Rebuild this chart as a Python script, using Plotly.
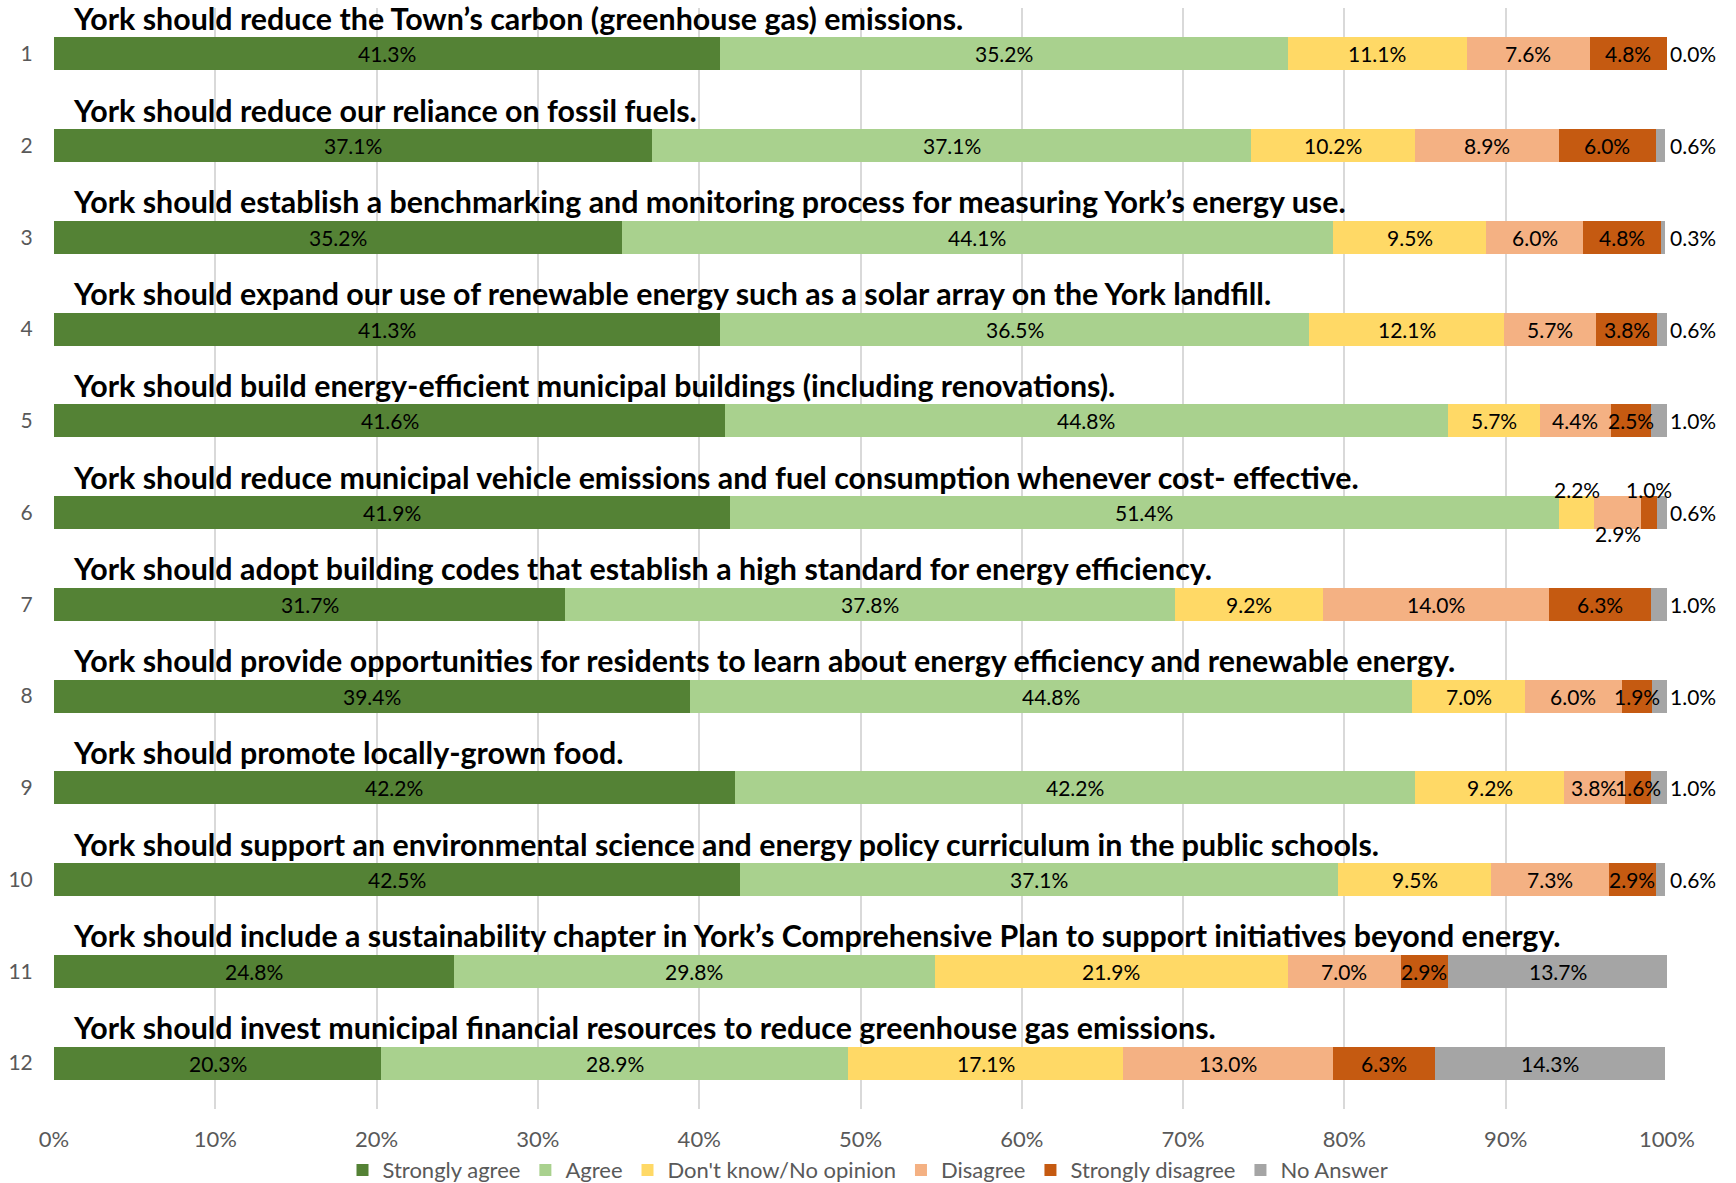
import plotly.graph_objects as go

rows = ["1", "2", "3", "4", "5", "6", "7", "8", "9", "10", "11", "12"]
questions = [
    "York should reduce the Town\u2019s carbon (greenhouse gas) emissions.",
    "York should reduce our reliance on fossil fuels.",
    "York should establish a benchmarking and monitoring process for measuring York\u2019s energy use.",
    "York should expand our use of renewable energy such as a solar array on the York landfill.",
    "York should build energy-efficient municipal buildings (including renovations).",
    "York should reduce municipal vehicle emissions and fuel consumption whenever cost- effective.",
    "York should adopt building codes that establish a high standard for energy efficiency.",
    "York should provide opportunities for residents to learn about energy efficiency and renewable energy.",
    "York should promote locally-grown food.",
    "York should support an environmental science and energy policy curriculum in the public schools.",
    "York should include a sustainability chapter in York\u2019s Comprehensive Plan to support initiatives beyond energy.",
    "York should invest municipal financial resources to reduce greenhouse gas emissions.",
]
series_names = ["Strongly agree", "Agree", "Don't know/No opinion", "Disagree", "Strongly disagree", "No Answer"]
strongly_agree = [41.3, 37.1, 35.2, 41.3, 41.6, 41.9, 31.7, 39.4, 42.2, 42.5, 24.8, 20.3]
agree = [35.2, 37.1, 44.1, 36.5, 44.8, 51.4, 37.8, 44.8, 42.2, 37.1, 29.8, 28.9]
dont_know = [11.1, 10.2, 9.5, 12.1, 5.7, 2.2, 9.2, 7.0, 9.2, 9.5, 21.9, 17.1]
disagree = [7.6, 8.9, 6.0, 5.7, 4.4, 2.9, 14.0, 6.0, 3.8, 7.3, 7.0, 13.0]
strongly_disagree = [4.8, 6.0, 4.8, 3.8, 2.5, 1.0, 6.3, 1.9, 1.6, 2.9, 2.9, 6.3]
no_answer = [0.0, 0.6, 0.3, 0.6, 1.0, 0.6, 1.0, 1.0, 1.0, 0.6, 13.7, 14.3]
x_ticks = [0, 10, 20, 30, 40, 50, 60, 70, 80, 90, 100]

colors = ["#548235", "#A9D18E", "#FFD966", "#F4B183", "#C55A11", "#A5A5A5"]
series = [strongly_agree, agree, dont_know, disagree, strongly_disagree, no_answer]

FONT = "Lato"
LABEL_SIZE = 21
fig = go.Figure()

for si, (name, vals, col) in enumerate(zip(series_names, series, colors)):
    fig.add_trace(go.Bar(
        name=name, y=rows, x=vals, orientation="h",
        marker=dict(color=col, line=dict(width=0)),
        hoverinfo="skip",
    ))

annotations = []
# row titles (y given as category index)
for ri, q in enumerate(questions):
    annotations.append(dict(
        x=0, y=ri, xref="x", yref="y", text=f"<b>{q}</b>",
        showarrow=False, xanchor="left", yanchor="middle",
        xshift=17, yshift=36, font=dict(family=FONT, size=30.4, color="#000000"),
    ))

# segment labels
row6 = 5
row6_shift = {2: 23, 3: -21, 4: 23}
for ri in range(len(rows)):
    cum = 0.0
    for si, vals in enumerate(series):
        v = vals[ri]
        label = f"{v:.1f}%"
        if si == 5 and ri < 10:
            # No Answer label placed right of the 100% line
            annotations.append(dict(
                x=100, y=ri, xref="x", yref="y", text=label,
                showarrow=False, xanchor="left", yanchor="middle", xshift=1,
                font=dict(family=FONT, size=LABEL_SIZE, color="#000000"),
            ))
        else:
            annotations.append(dict(
                x=cum + v / 2, y=ri, xref="x", yref="y", text=label,
                showarrow=False, xanchor="center", yanchor="middle",
                yshift=row6_shift.get(si, 0) if ri == row6 else 0,
                font=dict(family=FONT, size=LABEL_SIZE, color="#000000"),
            ))
        cum += v

fig.update_layout(
    barmode="stack", bargap=0.64,
    width=1736, height=1183,
    margin=dict(l=54, r=69, t=8, b=74, autoexpand=False),
    paper_bgcolor="white", plot_bgcolor="white",
    font=dict(family=FONT, color="#595959"),
    annotations=annotations,
    legend=dict(orientation="h", xref="container", yref="paper", x=0.5, xanchor="center",
                y=-0.0555, yanchor="middle", font=dict(family=FONT, size=22, color="#595959"),
                traceorder="normal", itemwidth=30),
    showlegend=True,
)
fig.update_xaxes(range=[0, 100], tickvals=x_ticks, ticktext=[f"{t}%" for t in x_ticks],
                 showgrid=True, gridcolor="#D9D9D9", gridwidth=1.5, zeroline=False,
                 showline=False, ticks="outside", ticklen=11, tickcolor="rgba(0,0,0,0)",
                 tickfont=dict(family=FONT, size=22, color="#595959"))
fig.update_yaxes(categoryorder="array", categoryarray=rows, range=[11.5, -0.5],
                 showgrid=False, zeroline=False, showline=False,
                 ticks="outside", ticklen=16, tickcolor="rgba(0,0,0,0)",
                 tickfont=dict(family=FONT, size=21, color="#595959"))

fig.write_html("out.html", config={"displayModeBar": False},
               post_script="document.body.style.margin='0';")
